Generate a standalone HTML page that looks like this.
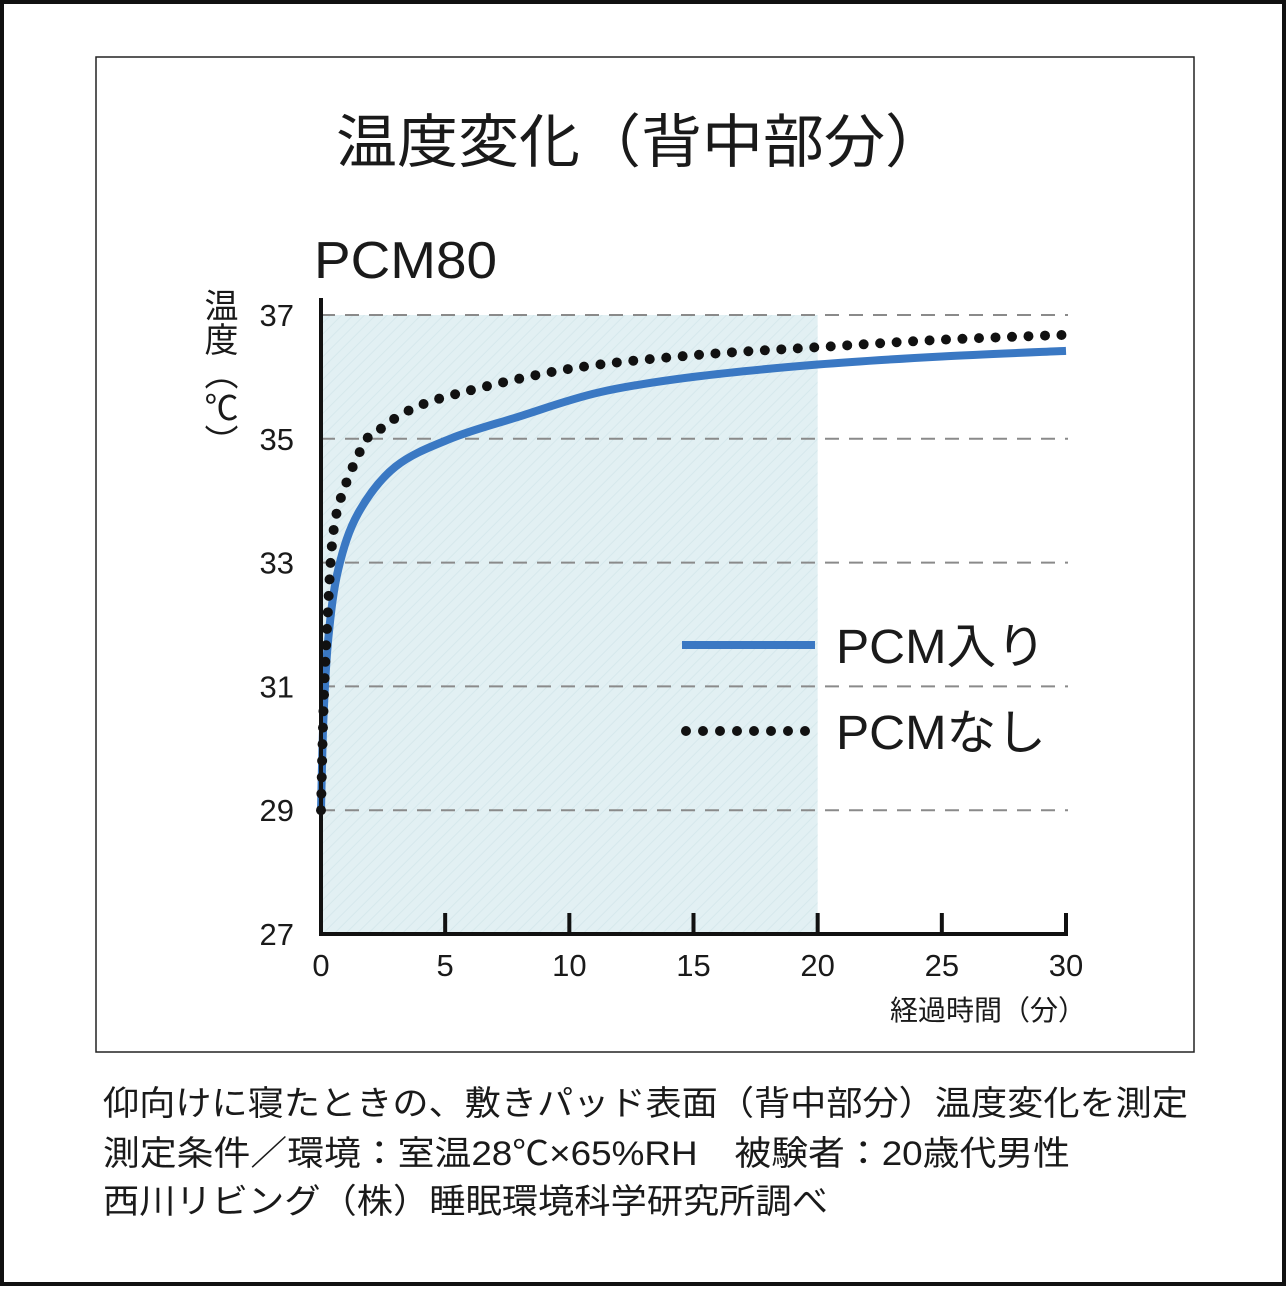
<!DOCTYPE html>
<html><head><meta charset="utf-8"><style>
body{margin:0;background:#fff}
svg text{font-family:"Liberation Sans","Noto Sans CJK JP",sans-serif;fill:#1a1a1a}
</style></head><body>
<svg width="1286" height="1286" viewBox="0 0 1286 1286" xmlns="http://www.w3.org/2000/svg">
<defs>
<pattern id="hatch" width="8" height="8" patternUnits="userSpaceOnUse" patternTransform="rotate(45)">
<rect width="8" height="8" fill="#e2f0f3"/>
<line x1="0" y1="0" x2="0" y2="8" stroke="#d6e8ec" stroke-width="2"/>
</pattern>
</defs>
<rect x="2" y="2" width="1282" height="1282" fill="#fff" stroke="#111" stroke-width="4"/>
<rect x="96" y="57" width="1098" height="995" fill="none" stroke="#222" stroke-width="1.5"/>
<text x="336" y="162" font-size="58" textLength="610" lengthAdjust="spacingAndGlyphs">温度変化（背中部分）</text>
<text x="314" y="278" font-size="52" textLength="183" lengthAdjust="spacingAndGlyphs">PCM80</text>
<text x="218" y="288" font-size="34" style="writing-mode:vertical-rl">温度（℃）</text>
<g id="plot"></g>
<text x="1086" y="1020" font-size="28" text-anchor="end">経過時間（分）</text>
<line x1="682" y1="645" x2="815" y2="645" stroke="#3a78c3" stroke-width="8"/>
<text x="836" y="663" font-size="48" textLength="210" lengthAdjust="spacingAndGlyphs">PCM入り</text>
<line x1="686" y1="731" x2="806" y2="731" stroke="#111" stroke-width="10" stroke-linecap="round" stroke-dasharray="0 17"/>
<text x="836" y="749" font-size="48" textLength="210" lengthAdjust="spacingAndGlyphs">PCMなし</text>
<text x="103" y="1115" font-size="34" textLength="1085" lengthAdjust="spacingAndGlyphs">仰向けに寝たときの、敷きパッド表面（背中部分）温度変化を測定</text>
<text x="103" y="1165" font-size="34" textLength="967" lengthAdjust="spacingAndGlyphs">測定条件／環境：室温28℃×65%RH　被験者：20歳代男性</text>
<text x="103" y="1213" font-size="34" textLength="725" lengthAdjust="spacingAndGlyphs">西川リビング（株）睡眠環境科学研究所調べ</text>
</svg>
<script>
const xTicks=[0,5,10,15,20,25,30];
const yTicks=[27,29,31,33,35,37];
const shadeEnd=20;
const timesA=[0,0.1,0.3,0.7,1.5,3,5.2,7.9,11.2,15,20,25,30];
const withPCM=[29,30.5,31.8,32.9,33.8,34.55,35.0,35.35,35.75,36.0,36.2,36.33,36.42];
const timesB=[0,0.1,0.25,0.5,1,1.85,2.4,3.5,5.4,10,15,20,25,30];
const withoutPCM=[29,30.6,32.0,33.5,34.27,35.0,35.16,35.45,35.72,36.13,36.35,36.48,36.6,36.68];
const NS='http://www.w3.org/2000/svg';
const X=t=>321+t*(1066-321)/30;
const Y=v=>934-(v-27)*61.9;
const g=document.getElementById('plot');
function mk(tag,a){const e=document.createElementNS(NS,tag);for(const k in a)e.setAttribute(k,a[k]);g.appendChild(e);return e;}
let e=mk('rect',{x:X(0),y:Y(37),width:X(shadeEnd)-X(0),height:Y(27)-Y(37),fill:'url(#hatch)'});


yTicks.forEach(v=>{
 if(v>27){const l=mk('line',{x1:X(0),y1:Y(v),x2:1068,y2:Y(v),stroke:'#8a8a8a','stroke-width':2,'stroke-dasharray':'14 10'});
 
 }
 const t=mk('text',{x:294,y:Y(v)+11,'font-size':31,'text-anchor':'end'});t.textContent=v;
 
 
});
xTicks.forEach(v=>{
 if(v>0){const l=mk('line',{x1:X(v),y1:934,x2:X(v),y2:913,stroke:'#111','stroke-width':4});
 
 }
 const t=mk('text',{x:X(v),y:976,'font-size':31,'text-anchor':'middle'});t.textContent=v;
 
 
});
function path(ts,vs){
 const p=ts.map((t,i)=>[X(t),Y(vs[i])]);
 let d='M'+p[0][0]+','+p[0][1];
 for(let i=0;i<p.length-1;i++){const p0=p[Math.max(0,i-1)],p1=p[i],p2=p[i+1],p3=p[Math.min(p.length-1,i+2)];
  const c1=[p1[0]+(p2[0]-p0[0])/6,p1[1]+(p2[1]-p0[1])/6],c2=[p2[0]-(p3[0]-p1[0])/6,p2[1]-(p3[1]-p1[1])/6];
  d+=`C${c1[0]},${c1[1]} ${c2[0]},${c2[1]} ${p2[0]},${p2[1]}`;}
 return d;}
e=mk('path',{d:path(timesA,withPCM),fill:'none',stroke:'#3a78c3','stroke-width':8});


e=mk('path',{d:path(timesB,withoutPCM),fill:'none',stroke:'#111','stroke-width':10,'stroke-linecap':'round','stroke-dasharray':'0 16.5'});


e=mk('polyline',{points:`321,298 321,934 1068,934`,fill:'none',stroke:'#111','stroke-width':4});


</script>
</body></html>
